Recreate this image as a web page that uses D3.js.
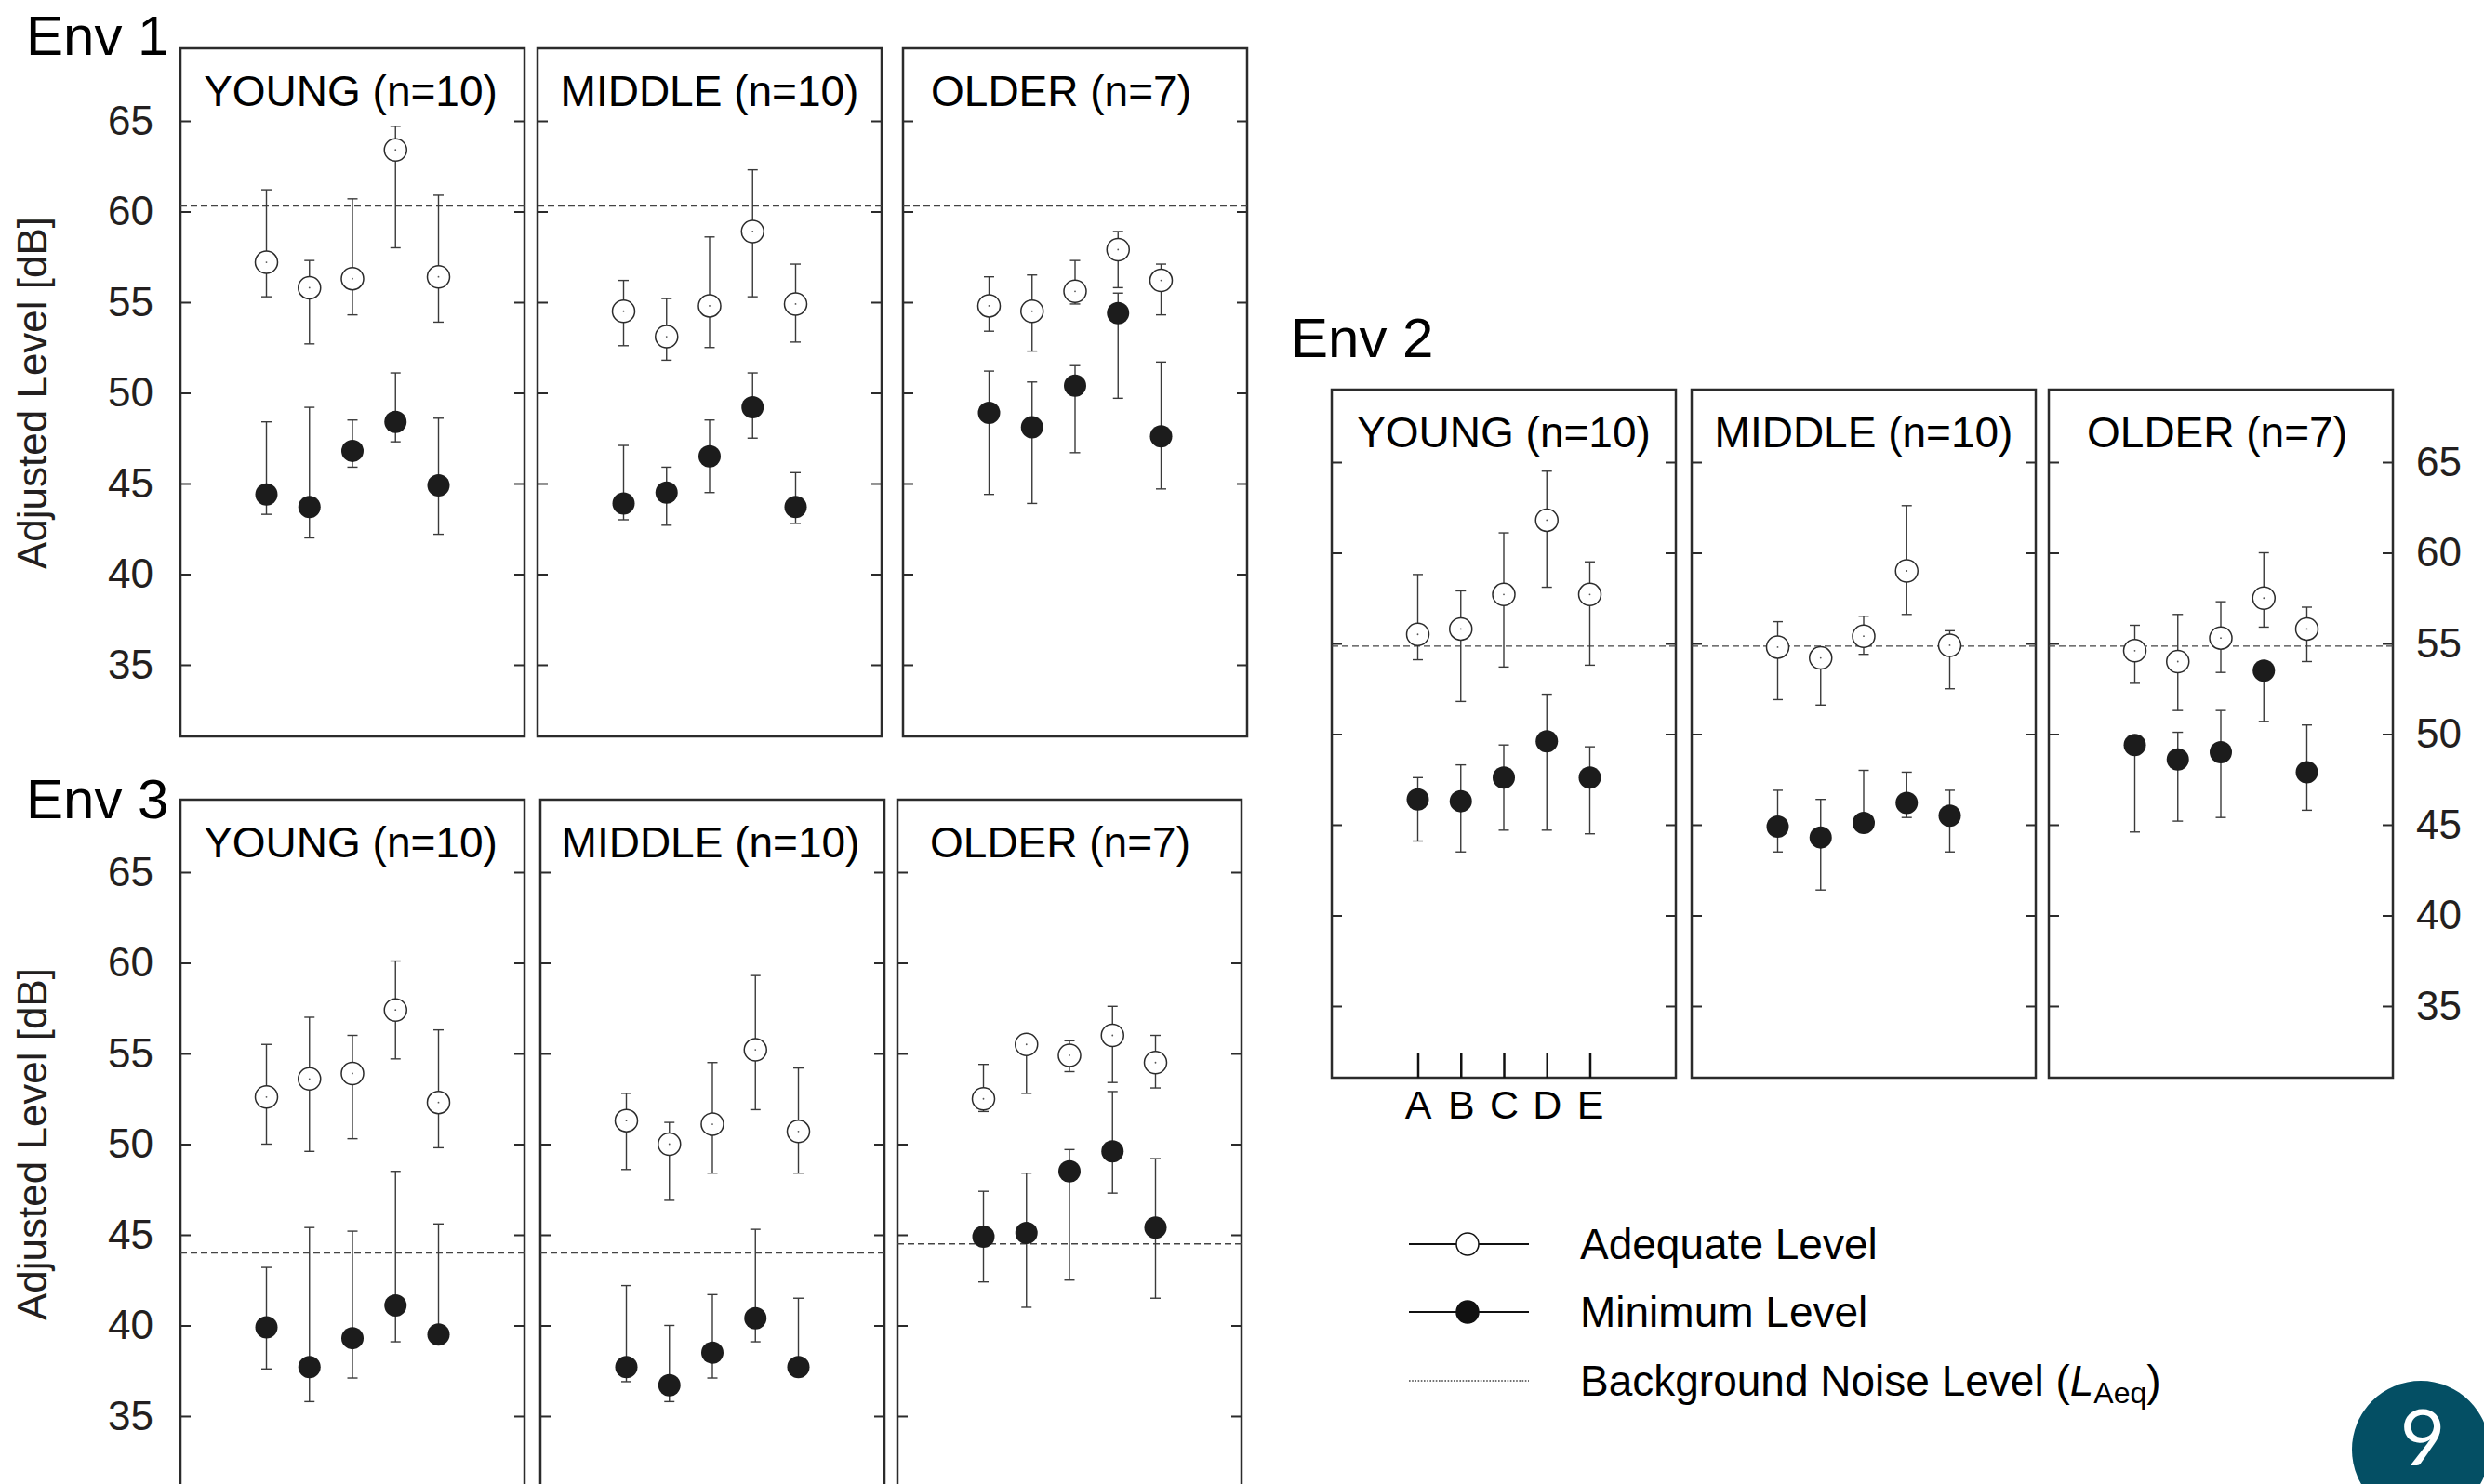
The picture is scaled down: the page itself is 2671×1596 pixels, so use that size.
<!DOCTYPE html>
<html>
<head>
<meta charset="utf-8">
<script src="https://cdn.jsdelivr.net/npm/d3@7"></script>
<style>
  body { margin: 0; background: #fff; }
  svg { display: block; font-family: "Liberation Sans", Arial, sans-serif; }
</style>
</head>
<body>
<svg id="chart" width="2671" height="1596"></svg>
<script>
// ---------------- data ----------------
let conditions = ["A", "B", "C", "D", "E"];
let groups = ["YOUNG (n=10)", "MIDDLE (n=10)", "OLDER (n=7)"];
let yTicks = [35, 40, 45, 50, 55, 60, 65];

// Env 1 (rows: young, middle, older; cols: A..E)
let env1AdeqMean = [[57.2, 55.8, 56.3, 63.4, 56.4], [54.5, 53.1, 54.8, 58.9, 54.9], [54.8, 54.5, 55.6, 57.9, 56.2]];
let env1AdeqLo   = [[55.3, 52.7, 54.3, 58.0, 53.9], [52.6, 51.8, 52.5, 55.3, 52.8], [53.4, 52.3, 54.9, 55.8, 54.3]];
let env1AdeqHi   = [[61.2, 57.3, 60.7, 64.7, 60.9], [56.2, 55.2, 58.6, 62.3, 57.1], [56.4, 56.5, 57.3, 58.9, 57.1]];
let env1MinMean  = [[44.4, 43.7, 46.8, 48.4, 44.9], [43.9, 44.5, 46.5, 49.2, 43.7], [48.9, 48.1, 50.4, 54.4, 47.6]];
let env1MinLo    = [[43.3, 42.0, 45.9, 47.3, 42.2], [43.0, 42.7, 44.5, 47.5, 42.8], [44.4, 43.9, 46.7, 49.7, 44.7]];
let env1MinHi    = [[48.4, 49.2, 48.5, 51.1, 48.6], [47.1, 45.9, 48.5, 51.1, 45.6], [51.2, 50.6, 51.5, 55.5, 51.7]];
let env1Noise    = [60.3, 60.3, 60.3];

// Env 2
let env2AdeqMean = [[55.5, 55.8, 57.7, 61.8, 57.7], [54.8, 54.2, 55.4, 59.0, 54.9], [54.6, 54.0, 55.3, 57.5, 55.8]];
let env2AdeqLo   = [[54.1, 51.8, 53.7, 58.1, 53.8], [51.9, 51.6, 54.4, 56.6, 52.5], [52.8, 51.3, 53.4, 55.9, 54.0]];
let env2AdeqHi   = [[58.8, 57.9, 61.1, 64.5, 59.5], [56.2, 54.5, 56.5, 62.6, 55.7], [56.0, 56.6, 57.3, 60.0, 57.0]];
let env2MinMean  = [[46.4, 46.3, 47.6, 49.6, 47.6], [44.9, 44.3, 45.1, 46.2, 45.5], [49.4, 48.6, 49.0, 53.5, 47.9]];
let env2MinLo    = [[44.1, 43.5, 44.7, 44.7, 44.5], [43.5, 41.4, 44.6, 45.4, 43.5], [44.6, 45.2, 45.4, 50.7, 45.8]];
let env2MinHi    = [[47.6, 48.3, 49.4, 52.2, 49.3], [46.9, 46.4, 48.0, 47.9, 46.9], [49.7, 50.1, 51.3, 53.8, 50.5]];
let env2Noise    = [54.85, 54.85, 54.85];

// Env 3
let env3AdeqMean = [[52.6, 53.6, 53.9, 57.4, 52.3], [51.3, 50.0, 51.1, 55.2, 50.7], [52.5, 55.5, 54.9, 56.0, 54.5]];
let env3AdeqLo   = [[50.0, 49.6, 50.3, 54.7, 49.8], [48.6, 46.9, 48.4, 51.9, 48.4], [51.8, 52.8, 54.0, 53.4, 53.1]];
let env3AdeqHi   = [[55.5, 57.0, 56.0, 60.1, 56.3], [52.8, 51.2, 54.5, 59.3, 54.2], [54.4, 55.9, 55.7, 57.6, 56.0]];
let env3MinMean  = [[39.9, 37.7, 39.3, 41.1, 39.5], [37.7, 36.7, 38.5, 40.4, 37.7], [44.9, 45.1, 48.5, 49.6, 45.4]];
let env3MinLo    = [[37.6, 35.8, 37.1, 39.1, 39.2], [36.9, 35.8, 37.1, 39.1, 37.4], [42.4, 41.0, 42.5, 47.3, 41.5]];
let env3MinHi    = [[43.2, 45.4, 45.2, 48.5, 45.6], [42.2, 40.0, 41.7, 45.3, 41.5], [47.4, 48.4, 49.7, 52.9, 49.2]];
let env3Noise    = [44.0, 44.0, 44.5];

let legendLabels = ["Adequate Level", "Minimum Level"];

// ---------------- layout ----------------
let panelW = 370;
let panelH = 740;
let yDomain = [31.05, 69.0];

let envs = [
  { name: "Env 1", titleX: 28, titleY: 59, top: 52, lefts: [194, 578, 971], titleShift: [-2, 0, -15],
    yLabels: "left", xLabels: false,
    adeq: [env1AdeqMean, env1AdeqLo, env1AdeqHi], min: [env1MinMean, env1MinLo, env1MinHi], noise: env1Noise },
  { name: "Env 2", titleX: 1388, titleY: 384, top: 419, lefts: [1432, 1819, 2203], titleShift: [0, 0, -4],
    yLabels: "right", xLabels: true,
    adeq: [env2AdeqMean, env2AdeqLo, env2AdeqHi], min: [env2MinMean, env2MinLo, env2MinHi], noise: env2Noise },
  { name: "Env 3", titleX: 28, titleY: 880, top: 860, lefts: [194, 581, 965], titleShift: [-2, -2, -10],
    yLabels: "left", xLabels: false,
    adeq: [env3AdeqMean, env3AdeqLo, env3AdeqHi], min: [env3MinMean, env3MinLo, env3MinHi], noise: env3Noise }
];

let svg = d3.select("#chart");
let ink = "#231f20";
let markR = 12;
let capW = 5.5;

envs.forEach(env => {
  let y = d3.scaleLinear().domain(yDomain).range([env.top + panelH, env.top]);

  svg.append("text")
    .attr("x", env.titleX)
    .attr("y", env.titleY)
    .attr("font-size", 60)
    .attr("fill", "#000")
    .text(env.name);

  groups.forEach((group, gi) => {
    let left = env.lefts[gi];
    let x = d3.scalePoint().domain(conditions).range([left, left + panelW]).padding(2);
    let g = svg.append("g");

    // panel frame
    g.append("rect")
      .attr("x", left).attr("y", env.top)
      .attr("width", panelW).attr("height", panelH)
      .attr("fill", "#fff")
      .attr("stroke", "#2b2b2b")
      .attr("stroke-width", 2.5);

    // inner ticks on both sides
    g.append("g")
      .attr("transform", `translate(${left},0)`)
      .call(d3.axisRight(y).tickValues(yTicks).tickSize(11).tickFormat(""))
      .call(a => a.select(".domain").remove())
      .selectAll("line").attr("stroke", "#2b2b2b").attr("stroke-width", 2);
    g.append("g")
      .attr("transform", `translate(${left + panelW},0)`)
      .call(d3.axisLeft(y).tickValues(yTicks).tickSize(11).tickFormat(""))
      .call(a => a.select(".domain").remove())
      .selectAll("line").attr("stroke", "#2b2b2b").attr("stroke-width", 2);

    // background noise level
    g.append("line")
      .attr("x1", left).attr("x2", left + panelW)
      .attr("y1", y(env.noise[gi])).attr("y2", y(env.noise[gi]))
      .attr("stroke", "#444")
      .attr("stroke-width", 1.4)
      .attr("stroke-dasharray", "7,4");

    // panel title
    g.append("text")
      .attr("x", left + panelW / 2 + env.titleShift[gi])
      .attr("y", env.top + 62)
      .attr("text-anchor", "middle")
      .attr("font-size", 46)
      .attr("fill", "#000")
      .text(group);

    // both series: error bars then markers
    [["min", true], ["adeq", false]].forEach(([key, filled]) => {
      let [mean, lo, hi] = env[key];
      let pts = conditions.map((c, i) => ({ c: c, m: mean[gi][i], lo: lo[gi][i], hi: hi[gi][i] }));
      let bars = g.append("g").attr("stroke", "#3a3a3a").attr("stroke-width", 1.4);
      pts.forEach(p => {
        bars.append("line").attr("x1", x(p.c)).attr("x2", x(p.c)).attr("y1", y(p.lo)).attr("y2", y(p.hi));
        bars.append("line").attr("x1", x(p.c) - capW).attr("x2", x(p.c) + capW).attr("y1", y(p.lo)).attr("y2", y(p.lo));
        bars.append("line").attr("x1", x(p.c) - capW).attr("x2", x(p.c) + capW).attr("y1", y(p.hi)).attr("y2", y(p.hi));
      });
      g.selectAll(null)
        .data(pts)
        .join("circle")
          .attr("cx", d => x(d.c))
          .attr("cy", d => y(d.m))
          .attr("r", markR)
          .attr("fill", filled ? "#1c1c1c" : "#fff")
          .attr("stroke", "#2b2b2b")
          .attr("stroke-width", filled ? 0 : 1.5);
      if (!filled) {
        g.selectAll(null)
          .data(pts)
          .join("circle")
            .attr("cx", d => x(d.c))
            .attr("cy", d => y(d.m))
            .attr("r", 0.9)
            .attr("fill", "#555");
      }
    });

    // condition axis only on Env 2 young panel
    if (env.xLabels && gi === 0) {
      g.append("g")
        .attr("transform", `translate(0,${env.top + panelH})`)
        .call(d3.axisBottom(x).tickSize(-27).tickPadding(13))
        .call(a => a.select(".domain").remove())
        .call(a => a.selectAll("line").attr("stroke", "#111").attr("stroke-width", 2.5))
        .call(a => a.selectAll("text").attr("font-size", 43).attr("fill", "#000")
          .attr("font-family", "Liberation Sans, Arial, sans-serif"));
    }
  });

  // y tick labels and axis title
  let labelAxis = env.yLabels === "left"
    ? d3.axisLeft(y).tickValues(yTicks).tickSize(0).tickPadding(29)
    : d3.axisRight(y).tickValues(yTicks).tickSize(0).tickPadding(25);
  let labelX = env.yLabels === "left" ? env.lefts[0] : env.lefts[2] + panelW;
  svg.append("g")
    .attr("transform", `translate(${labelX},0)`)
    .call(labelAxis)
    .call(a => a.select(".domain").remove())
    .call(a => a.selectAll("text").attr("font-size", 44).attr("fill", ink)
      .attr("font-family", "Liberation Sans, Arial, sans-serif"));

  if (env.yLabels === "left") {
    svg.append("text")
      .attr("transform", `translate(50,${y(50)}) rotate(-90)`)
      .attr("text-anchor", "middle")
      .attr("font-size", 44)
      .attr("fill", ink)
      .text("Adjusted Level [dB]");
  }
});

// ---------------- legend ----------------
let legend = svg.append("g");
let legendRows = [1338, 1411, 1485];

legendLabels.forEach((label, i) => {
  let ry = legendRows[i];
  legend.append("line")
    .attr("x1", 1515).attr("x2", 1644).attr("y1", ry).attr("y2", ry)
    .attr("stroke", "#111").attr("stroke-width", 2);
  legend.append("circle")
    .attr("cx", 1578).attr("cy", ry).attr("r", markR)
    .attr("fill", i === 0 ? "#fff" : "#111")
    .attr("stroke", "#111").attr("stroke-width", 1.5);
  legend.append("text")
    .attr("x", 1699).attr("y", ry + 16)
    .attr("font-size", 46).attr("fill", "#000")
    .text(label);
});

legend.append("line")
  .attr("x1", 1515).attr("x2", 1644).attr("y1", legendRows[2]).attr("y2", legendRows[2])
  .attr("stroke", "#444").attr("stroke-width", 1.6).attr("stroke-dasharray", "1.6,1.6");

let bgText = legend.append("text")
  .attr("x", 1699).attr("y", legendRows[2] + 16)
  .attr("font-size", 46).attr("fill", "#000");
bgText.append("tspan").text("Background Noise Level (");
bgText.append("tspan").attr("font-style", "italic").text("L");
bgText.append("tspan").attr("font-size", 32).attr("dy", 8).text("Aeq");
bgText.append("tspan").attr("dy", -8).text(")");

// ---------------- page badge ----------------
svg.append("circle")
  .attr("cx", 2603).attr("cy", 1559).attr("r", 74)
  .attr("fill", "#044f64");
svg.append("text")
  .attr("x", 2605).attr("y", 1576)
  .attr("text-anchor", "middle")
  .attr("font-size", 84)
  .attr("font-family", "Lato, sans-serif")
  .attr("fill", "#fff")
  .text("9");
</script>
</body>
</html>
